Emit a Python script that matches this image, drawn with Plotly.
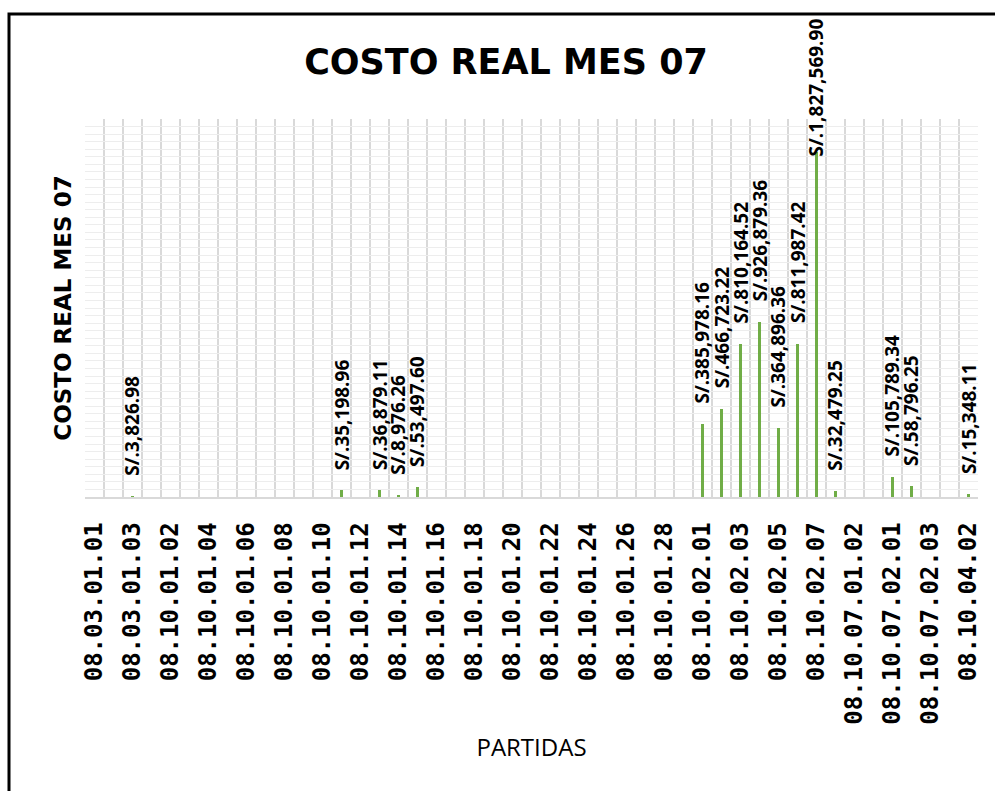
import plotly.graph_objects as go

# Partidas (budget items) in chart order
categories = [
    "08.03.01.01", "08.03.01.02", "08.03.01.03",
    "08.10.01.01", "08.10.01.02", "08.10.01.03", "08.10.01.04", "08.10.01.05",
    "08.10.01.06", "08.10.01.07", "08.10.01.08", "08.10.01.09", "08.10.01.10",
    "08.10.01.11", "08.10.01.12", "08.10.01.13", "08.10.01.14", "08.10.01.15",
    "08.10.01.16", "08.10.01.17", "08.10.01.18", "08.10.01.19", "08.10.01.20",
    "08.10.01.21", "08.10.01.22", "08.10.01.23", "08.10.01.24", "08.10.01.25",
    "08.10.01.26", "08.10.01.27", "08.10.01.28", "08.10.01.29",
    "08.10.02.01", "08.10.02.02", "08.10.02.03", "08.10.02.04", "08.10.02.05",
    "08.10.02.06", "08.10.02.07",
    "08.10.07.01.01", "08.10.07.01.02", "08.10.07.01.03",
    "08.10.07.02.01", "08.10.07.02.02", "08.10.07.02.03",
    "08.10.04.01", "08.10.04.02",
]

# Real cost for month 07 (S/.); None where the item has no cost
costo_real = [None] * len(categories)
costo_real[2] = 3826.98
costo_real[13] = 35198.96
costo_real[15] = 36879.11
costo_real[16] = 8976.26
costo_real[17] = 53497.60
costo_real[32] = 385978.16
costo_real[33] = 466723.22
costo_real[34] = 810164.52
costo_real[35] = 926879.36
costo_real[36] = 364896.36
costo_real[37] = 811987.42
costo_real[38] = 1827569.90
costo_real[39] = 32479.25
costo_real[42] = 105789.34
costo_real[43] = 58796.25
costo_real[46] = 15348.11

positions = list(range(len(categories)))
tick_positions = positions[::2]
tick_labels = categories[::2]

Y_MAX = 2000000

# plot area in pixels: x 85..978, y 119..497
L, R, T, B = 85, 17, 119, 294
W, H = 995, 791
pw, ph = W - L - R, H - T - B

def px_x(x):
    return (x - L) / pw

def px_y(y):
    return (H - B - y) / ph

fig = go.Figure()
fig.add_trace(go.Bar(
    x=positions,
    y=costo_real,
    width=0.17,
    marker=dict(color="#70ad47", line=dict(width=0)),
    cliponaxis=False,
    hoverinfo="x+y",
))

# Value labels above each bar (outside end), kept inside the chart frame
LABEL_GAP = 18
CHAR_PX = 9.4
TOP_LIMIT = 18
annotations = []
for pos, val in zip(positions, costo_real):
    if val is None:
        continue
    text = f"S/.{val:,.2f}"
    bar_top = (H - B) - val / Y_MAX * ph
    bottom = bar_top - LABEL_GAP
    length = len(text) * CHAR_PX
    if bottom - length < TOP_LIMIT:
        bottom = TOP_LIMIT + length
    annotations.append(dict(
        x=pos, y=val, xref="x", yref="y",
        text=f"<b>{text}</b>",
        textangle=-90,
        xanchor="center", yanchor="bottom",
        yshift=bar_top - bottom,
        showarrow=False,
        font=dict(family="Open Sans", size=19, color="#000000"),
    ))

fig.update_layout(
    width=W, height=H,
    margin=dict(l=L, r=R, t=T, b=B, pad=0),
    paper_bgcolor="white",
    plot_bgcolor="white",
    showlegend=False,
    bargap=0,
    annotations=annotations,
    title=dict(
        text="<b>COSTO REAL MES 07</b>",
        x=px_x(506), xref="paper", xanchor="center",
        y=1 - 62 / H, yref="container", yanchor="middle",
        font=dict(family="DejaVu Sans", size=35, color="#000000"),
    ),
    xaxis=dict(
        range=[-0.5, len(categories) - 0.5],
        tickmode="array",
        tickvals=tick_positions,
        ticktext=tick_labels,
        tickangle=-90,
        ticks="",
        ticklabelstandoff=14,
        tickfont=dict(family="DejaVu Sans Mono", size=24, color="#000000", weight="bold"),
        showgrid=False,
        minor=dict(
            tickmode="array",
            tickvals=[p - 0.5 for p in positions] + [positions[-1] + 0.5],
            showgrid=True,
            gridcolor="#d9d9d9",
            gridwidth=1.5,
            ticks="",
        ),
        showline=True,
        linecolor="#d9d9d9",
        linewidth=1.5,
        zeroline=False,
        title=dict(
            text="PARTIDAS",
            font=dict(family="Open Sans", size=24, color="#000000"),
            standoff=16,
        ),
    ),
    yaxis=dict(
        range=[0, Y_MAX],
        tickmode="linear",
        tick0=0,
        dtick=40000,
        showgrid=True,
        gridcolor="#ededed",
        gridwidth=1,
        showticklabels=False,
        ticks="",
        zeroline=False,
        showline=False,
        title=dict(
            text="<b>COSTO REAL MES 07</b>",
            font=dict(family="DejaVu Sans", size=23, color="#000000"),
            standoff=5,
        ),
    ),
    shapes=[dict(
        type="rect", xref="paper", yref="paper",
        x0=px_x(9), x1=px_x(1010), y0=px_y(805), y1=px_y(14),
        line=dict(color="#000000", width=3),
        fillcolor="rgba(0,0,0,0)",
        layer="above",
    )],
)

fig.write_html("out.html")
